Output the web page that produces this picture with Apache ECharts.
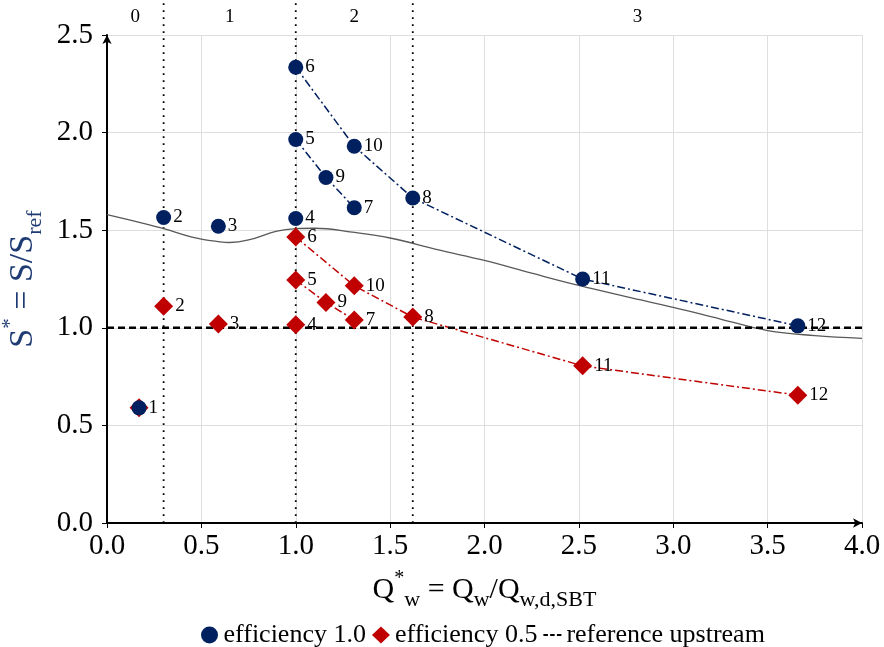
<!DOCTYPE html>
<html>
<head>
<meta charset="utf-8">
<script src="https://cdn.jsdelivr.net/npm/echarts@6/dist/echarts.min.js"></script>
<style>
  html, body { margin: 0; padding: 0; background: #fff; }
  #chart { width: 884px; height: 647px; }
</style>
</head>
<body>
<div id="chart"></div>
<script>
// case numbers and values
var caseNames = ['1', '2', '3', '4', '5', '6', '7', '8', '9', '10', '11', '12'];
var qw = [0.17, 0.30, 0.59, 1.0, 1.0, 1.0, 1.31, 1.62, 1.16, 1.31, 2.52, 3.66];
var sEff10 = [0.59, 1.565, 1.52, 1.56, 1.965, 2.335, 1.615, 1.665, 1.77, 1.93, 1.25, 1.01];
var sEff05 = [0.59, 1.11, 1.02, 1.015, 1.245, 1.465, 1.04, 1.055, 1.13, 1.215, 0.805, 0.655];

// cases joined by dash-dot lines (case numbers)
var chainA = [6, 10, 8, 11, 12];
var chainB = [5, 9, 7];

// reference upstream level
var refLevel = 1.0;

// grey curve
var curveQ = [0, 0.15, 0.3, 0.45, 0.6, 0.65, 0.75, 0.9, 1.0, 1.1, 1.3, 1.5, 1.75, 2.0, 2.25, 2.5, 2.75, 3.0, 3.25, 3.5, 3.75, 4.0];
var curveS = [1.58, 1.545, 1.508, 1.465, 1.44, 1.437, 1.45, 1.495, 1.508, 1.51, 1.49, 1.46, 1.40, 1.345, 1.28, 1.217, 1.16, 1.105, 1.045, 0.986, 0.96, 0.946];

// zone borders and zone names
var zoneBorders = [0.3, 1.0, 1.62];
var zoneNames = ['0', '1', '2', '3'];
var zoneCenters = [0.15, 0.65, 1.31, 2.81];
var zoneTop = 2.67;
var zoneLabelY = 2.59;

var navy = '#002060';
var red = '#c00000';
var serif = 'Liberation Serif';

function points(values, skipLabel) {
    return qw.map(function (q, i) {
        var d = {value: [q, values[i]], name: caseNames[i]};
        if (skipLabel && skipLabel.indexOf(i) >= 0) d.label = {show: false};
        return d;
    });
}

function chain(ids, values) {
    return ids.map(function (n) {
        return [qw[n - 1], values[n - 1]];
    });
}

var pointLabel = {
    show: true,
    position: 'right',
    distance: 2,
    formatter: '{b}',
    color: '#000',
    fontFamily: serif,
    fontSize: 19
};

var series = [];

// vertical dotted zone borders
zoneBorders.forEach(function (b) {
    series.push({
        type: 'line',
        data: [[b, 0], [b, zoneTop]],
        symbol: 'none',
        clip: false,
        silent: true,
        lineStyle: {color: '#000', width: 1.8, type: [1.8, 5.2]},
        z: 1
    });
});

// zone names above the plot
series.push({
    type: 'scatter',
    data: zoneCenters.map(function (c, i) {
        return {value: [c, zoneLabelY], name: zoneNames[i]};
    }),
    symbolSize: 0,
    clip: false,
    silent: true,
    itemStyle: {opacity: 1},
    label: {
        show: true,
        position: 'inside',
        formatter: '{b}',
        color: '#000',
        fontFamily: serif,
        fontSize: 19
    }
});

// grey curve
series.push({
    type: 'line',
    data: curveQ.map(function (q, i) { return [q, curveS[i]]; }),
    smooth: 0.4,
    symbol: 'none',
    lineStyle: {color: '#595959', width: 1.3},
    z: 2
});

// dash-dot connections
[[chainA, sEff05, red], [chainB, sEff05, red], [chainA, sEff10, navy], [chainB, sEff10, navy]].forEach(function (c) {
    series.push({
        type: 'line',
        data: chain(c[0], c[1]),
        symbol: 'none',
        lineStyle: {color: c[2], width: 1.5, type: [8, 3, 2, 3]},
        z: 3
    });
});

series.push({
    name: 'reference upstream',
    type: 'line',
    data: [[0, refLevel], [4, refLevel]],
    symbol: 'none',
    itemStyle: {color: '#000'},
    lineStyle: {color: '#000', width: 2.5, type: [7, 4]},
    z: 3
});

series.push({
    name: 'efficiency 0.5',
    type: 'scatter',
    data: points(sEff05, [0]),
    symbol: 'diamond',
    symbolSize: 19,
    itemStyle: {color: red, opacity: 1},
    label: pointLabel,
    z: 4
});

series.push({
    name: 'efficiency 1.0',
    type: 'scatter',
    data: points(sEff10),
    symbol: 'circle',
    symbolSize: 15,
    itemStyle: {color: navy, opacity: 1},
    label: pointLabel,
    z: 5
});

var myChart = echarts.init(document.getElementById('chart'));

var option = {
    animation: false,
    backgroundColor: '#fff',
    textStyle: {fontFamily: serif},
    grid: {left: 107, right: 22, top: 35, bottom: 124, containLabel: false, outerBoundsMode: 'none'},
    legend: {
        top: 617,
        left: 196,
        itemGap: 6,
        itemWidth: 18,
        itemHeight: 17,
        data: [
            {name: 'efficiency 1.0', icon: 'circle'},
            {name: 'efficiency 0.5', icon: 'diamond'},
            {name: 'reference upstream', icon: 'path://M0,0h3v1.3h-3z M4.5,0h3v1.3h-3z M9,0h3v1.3h-3z'}
        ],
        textStyle: {fontFamily: serif, fontSize: 26, color: '#000'}
    },
    xAxis: {
        type: 'value',
        min: 0,
        max: 4,
        interval: 0.5,
        name: 'Q{sup|*}{sub|w} = Q{sub|w}/Q{sub|w,d,SBT}',
        nameLocation: 'middle',
        nameGap: 46,
        nameTextStyle: {
            fontFamily: serif,
            fontSize: 30,
            color: '#000',
            lineHeight: 42,
            rich: {
                sup: {fontSize: 20, verticalAlign: 'top', lineHeight: 42, fontFamily: serif, color: '#000'},
                sub: {fontSize: 22, verticalAlign: 'bottom', lineHeight: 42, fontFamily: serif, color: '#000'}
            }
        },
        axisLine: {show: true, lineStyle: {color: '#000', width: 2}, symbol: ['none', 'arrow'], symbolSize: [7, 9]},
        axisTick: {show: true, length: 5, lineStyle: {color: '#000'}},
        axisLabel: {
            fontFamily: serif,
            fontSize: 29,
            color: '#000',
            margin: 9,
            formatter: function (v) { return v.toFixed(1); }
        },
        splitLine: {show: true, lineStyle: {color: '#dedede', width: 1}}
    },
    yAxis: {
        type: 'value',
        min: 0,
        max: 2.5,
        interval: 0.5,
        name: 'S{sup|*} = S/S{sub|ref}',
        nameLocation: 'middle',
        nameGap: 56,
        nameTextStyle: {
            fontFamily: serif,
            fontSize: 34,
            color: '#1f3b73',
            lineHeight: 46,
            rich: {
                sup: {fontSize: 21, verticalAlign: 'top', lineHeight: 46, fontFamily: serif, color: '#1f3b73'},
                sub: {fontSize: 22, verticalAlign: 'bottom', lineHeight: 46, fontFamily: serif, color: '#1f3b73'}
            }
        },
        axisLine: {show: true, lineStyle: {color: '#000', width: 2}, symbol: ['none', 'arrow'], symbolSize: [7, 9]},
        axisTick: {show: true, length: 5, lineStyle: {color: '#000'}},
        axisLabel: {
            fontFamily: serif,
            fontSize: 29,
            color: '#000',
            margin: 14,
            formatter: function (v) { return v.toFixed(1); }
        },
        splitLine: {show: true, lineStyle: {color: '#dedede', width: 1}}
    },
    series: series
};

myChart.setOption(option);
</script>
</body>
</html>
